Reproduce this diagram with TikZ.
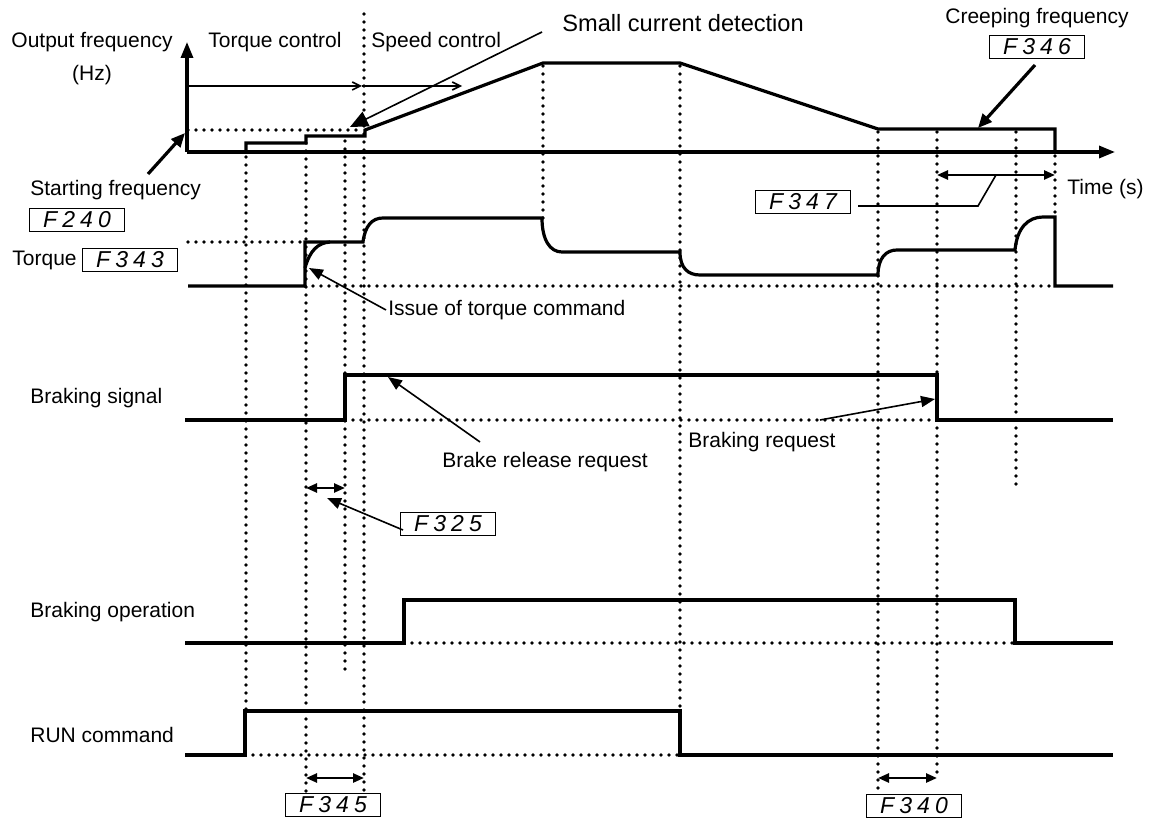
\documentclass[tikz,border=0pt]{standalone}
\usepackage{fontspec}
\setmainfont{Liberation Sans}
\newfontfamily\segfont[LetterSpace=22]{Liberation Sans}
\usetikzlibrary{arrows.meta}

\begin{document}
\begin{tikzpicture}[x=0.5pt, y=-0.5pt,
        lbl/.style={font=\fontsize{10.5}{16.5}\selectfont, inner sep=0pt},
        param/.style={draw, line width=0.9pt, inner sep=0pt, minimum width=47.5pt, minimum height=11.5pt, font=\fontsize{11.5}{12}\segfont\itshape},
        sig/.style={line width=1.6pt},
        guide/.style={line width=1.8pt, dash pattern=on 0pt off 4pt, line cap=round},
        lead/.style={line width=0.8pt},
        farr/.style={-{Triangle[length=7pt,width=5.5pt]}},
        spanarr/.style={line width=1.2pt, {Triangle[length=5.5pt,width=4.5pt]}-{Triangle[length=5.5pt,width=4.5pt]}}
        ]
        \useasboundingbox (0,0) rectangle (1151,818);

        % timing guides
        \foreach \x/\ya/\yb in {246/157/712, 306/143/792, 345/141/672, 364/14/792, 543/66/218,
                680/66/711, 878/132/792, 937/132/778, 1016/132/490, 1055/156/217}
            \draw[guide] (\x,\ya) -- (\x,\yb);
        \draw[guide] (188,130) -- (362,130);
        \draw[guide] (188,242) -- (305,242);
        \draw[guide] (305,286) -- (1055,286);
        \draw[guide] (345,420) -- (937,420);
        \draw[guide] (404,643) -- (1015,643);
        \draw[guide] (245,755) -- (680,755);

        % axes
        \coordinate (org) at (187,152);
        \coordinate (ftop) at (187,42);
        \coordinate (tend) at (1115,152);
        \draw[sig, -{Triangle[length=8pt,width=6pt]}] (org) -- (ftop);
        \draw[sig, -{Triangle[length=8pt,width=6pt]}] (org) -- (tend);

        % signals
        \draw[sig] (246,152) -- (246,143) -- (306,143) -- (306,136) -- (365,136) -- (365,130)
            -- (543,63) -- (680,63) -- (878,129) -- (1055,129) -- (1055,152);
        \draw[sig] (188,286) -- (305,286) -- (305,242) -- (363,242)
            .. controls (365,226) and (372,218) .. (383,218) -- (542,218)
            .. controls (542,240) and (550,252) .. (562,252) -- (680,252)
            .. controls (680,268) and (688,275) .. (700,275) -- (878,275)
            .. controls (878,258) and (886,250) .. (897,250) -- (1015,250)
            .. controls (1017,228) and (1028,217) .. (1043,217) -- (1055,217)
            -- (1055,286) -- (1113,286);
        \draw[sig] (305,268) .. controls (310,250) and (318,243) .. (330,242);
        \draw[sig] (185,420) -- (345,420) -- (345,375) -- (937,375) -- (937,420) -- (1113,420);
        \draw[sig] (185,643) -- (404,643) -- (404,600) -- (1015,600) -- (1015,643) -- (1113,643);
        \draw[sig] (185,755) -- (245,755) -- (245,711) -- (680,711) -- (680,755) -- (1113,755);

        % labels
        \node[lbl, align=center] (outf) at (92,59) {Output frequency\\(Hz)};
        \node[lbl, anchor=west] (tqctl) at (208,42) {Torque control};
        \node[lbl, anchor=west] (spctl) at (371,42) {Speed control};
        \node[lbl, anchor=west, font=\fontsize{11.8}{14}\selectfont] (smcur) at (562,23) {Small current detection};
        \node[lbl] (creep) at (1037,18) {Creeping frequency};
        \node[param] (F346) at (1037,47) {F346};
        \node[lbl, anchor=west] (startf) at (30,190) {Starting frequency};
        \node[param] (F240) at (77,220) {F240};
        \node[lbl, anchor=west] (torque) at (12,260) {Torque};
        \node[param] (F343) at (130,260) {F343};
        \node[param] (F347) at (803,202) {F347};
        \node[lbl, anchor=west] (time) at (1067,189) {Time (s)};
        \node[lbl, anchor=west] (issue) at (388,310) {Issue of torque command};
        \node[lbl, anchor=west] (brsig) at (30,398) {Braking signal};
        \node[lbl] (brrel) at (545,462) {Brake release request};
        \node[lbl, anchor=west] (brreq) at (688,442) {Braking request};
        \node[param] (F325) at (448,524) {F325};
        \node[lbl, anchor=west] (brop) at (30,612) {Braking operation};
        \node[lbl, anchor=west] (run) at (30,735) {RUN command};
        \node[param] (F345) at (333,805) {F345};
        \node[param] (F340) at (914,806) {F340};

        % control ranges
        \coordinate (ctl0) at (187,86);
        \coordinate (ctl1) at (362,86);
        \coordinate (ctl2) at (462,86);
        \draw[lead, -{Straight Barb[length=4pt,width=4pt]}] (ctl0) -- (ctl1);
        \draw[lead, -{Straight Barb[length=4pt,width=4pt]}] (ctl1) -- (ctl2);

        % pointers
        \coordinate (sf0) at (148,174);
        \coordinate (sf1) at (185,133);
        \draw[sig, -{Triangle[length=7pt,width=6pt]}] (sf0) -- (sf1);
        \coordinate (sc0) at (542,32);
        \coordinate (sc1) at (350,127);
        \draw[lead, -{Triangle[length=9pt,width=8pt]}] (sc0) -- (sc1);
        \coordinate (cf0) at (1035,65);
        \coordinate (cf1) at (978,128);
        \draw[sig, -{Triangle[length=7pt,width=6pt]}] (cf0) -- (cf1);
        \coordinate (tq0) at (386,310);
        \coordinate (tq1) at (309,268);
        \draw[lead, farr] (tq0) -- (tq1);
        \coordinate (rl0) at (480,442);
        \coordinate (rl1) at (388,377);
        \draw[lead, farr] (rl0) -- (rl1);
        \coordinate (rq0) at (820,420);
        \coordinate (rq1) at (935,399);
        \draw[lead, farr] (rq0) -- (rq1);
        \coordinate (p25) at (403,530);
        \coordinate (a25) at (327,498);
        \draw[lead, farr] (p25) -- (a25);
        \coordinate (p47a) at (858,206);
        \coordinate (p47b) at (978,206);
        \coordinate (p47c) at (996,175);
        \draw[lead] (p47a) -- (p47b) -- (p47c);

        % time spans
        \coordinate (s47a) at (937,175);
        \coordinate (s47b) at (1055,175);
        \draw[spanarr] (s47a) -- (s47b);
        \coordinate (s25a) at (306,488);
        \coordinate (s25b) at (345,488);
        \draw[spanarr] (s25a) -- (s25b);
        \coordinate (s45a) at (306,778);
        \coordinate (s45b) at (364,778);
        \draw[spanarr] (s45a) -- (s45b);
        \coordinate (s40a) at (878,778);
        \coordinate (s40b) at (937,778);
        \draw[spanarr] (s40a) -- (s40b);
    \end{tikzpicture}
\end{document}
